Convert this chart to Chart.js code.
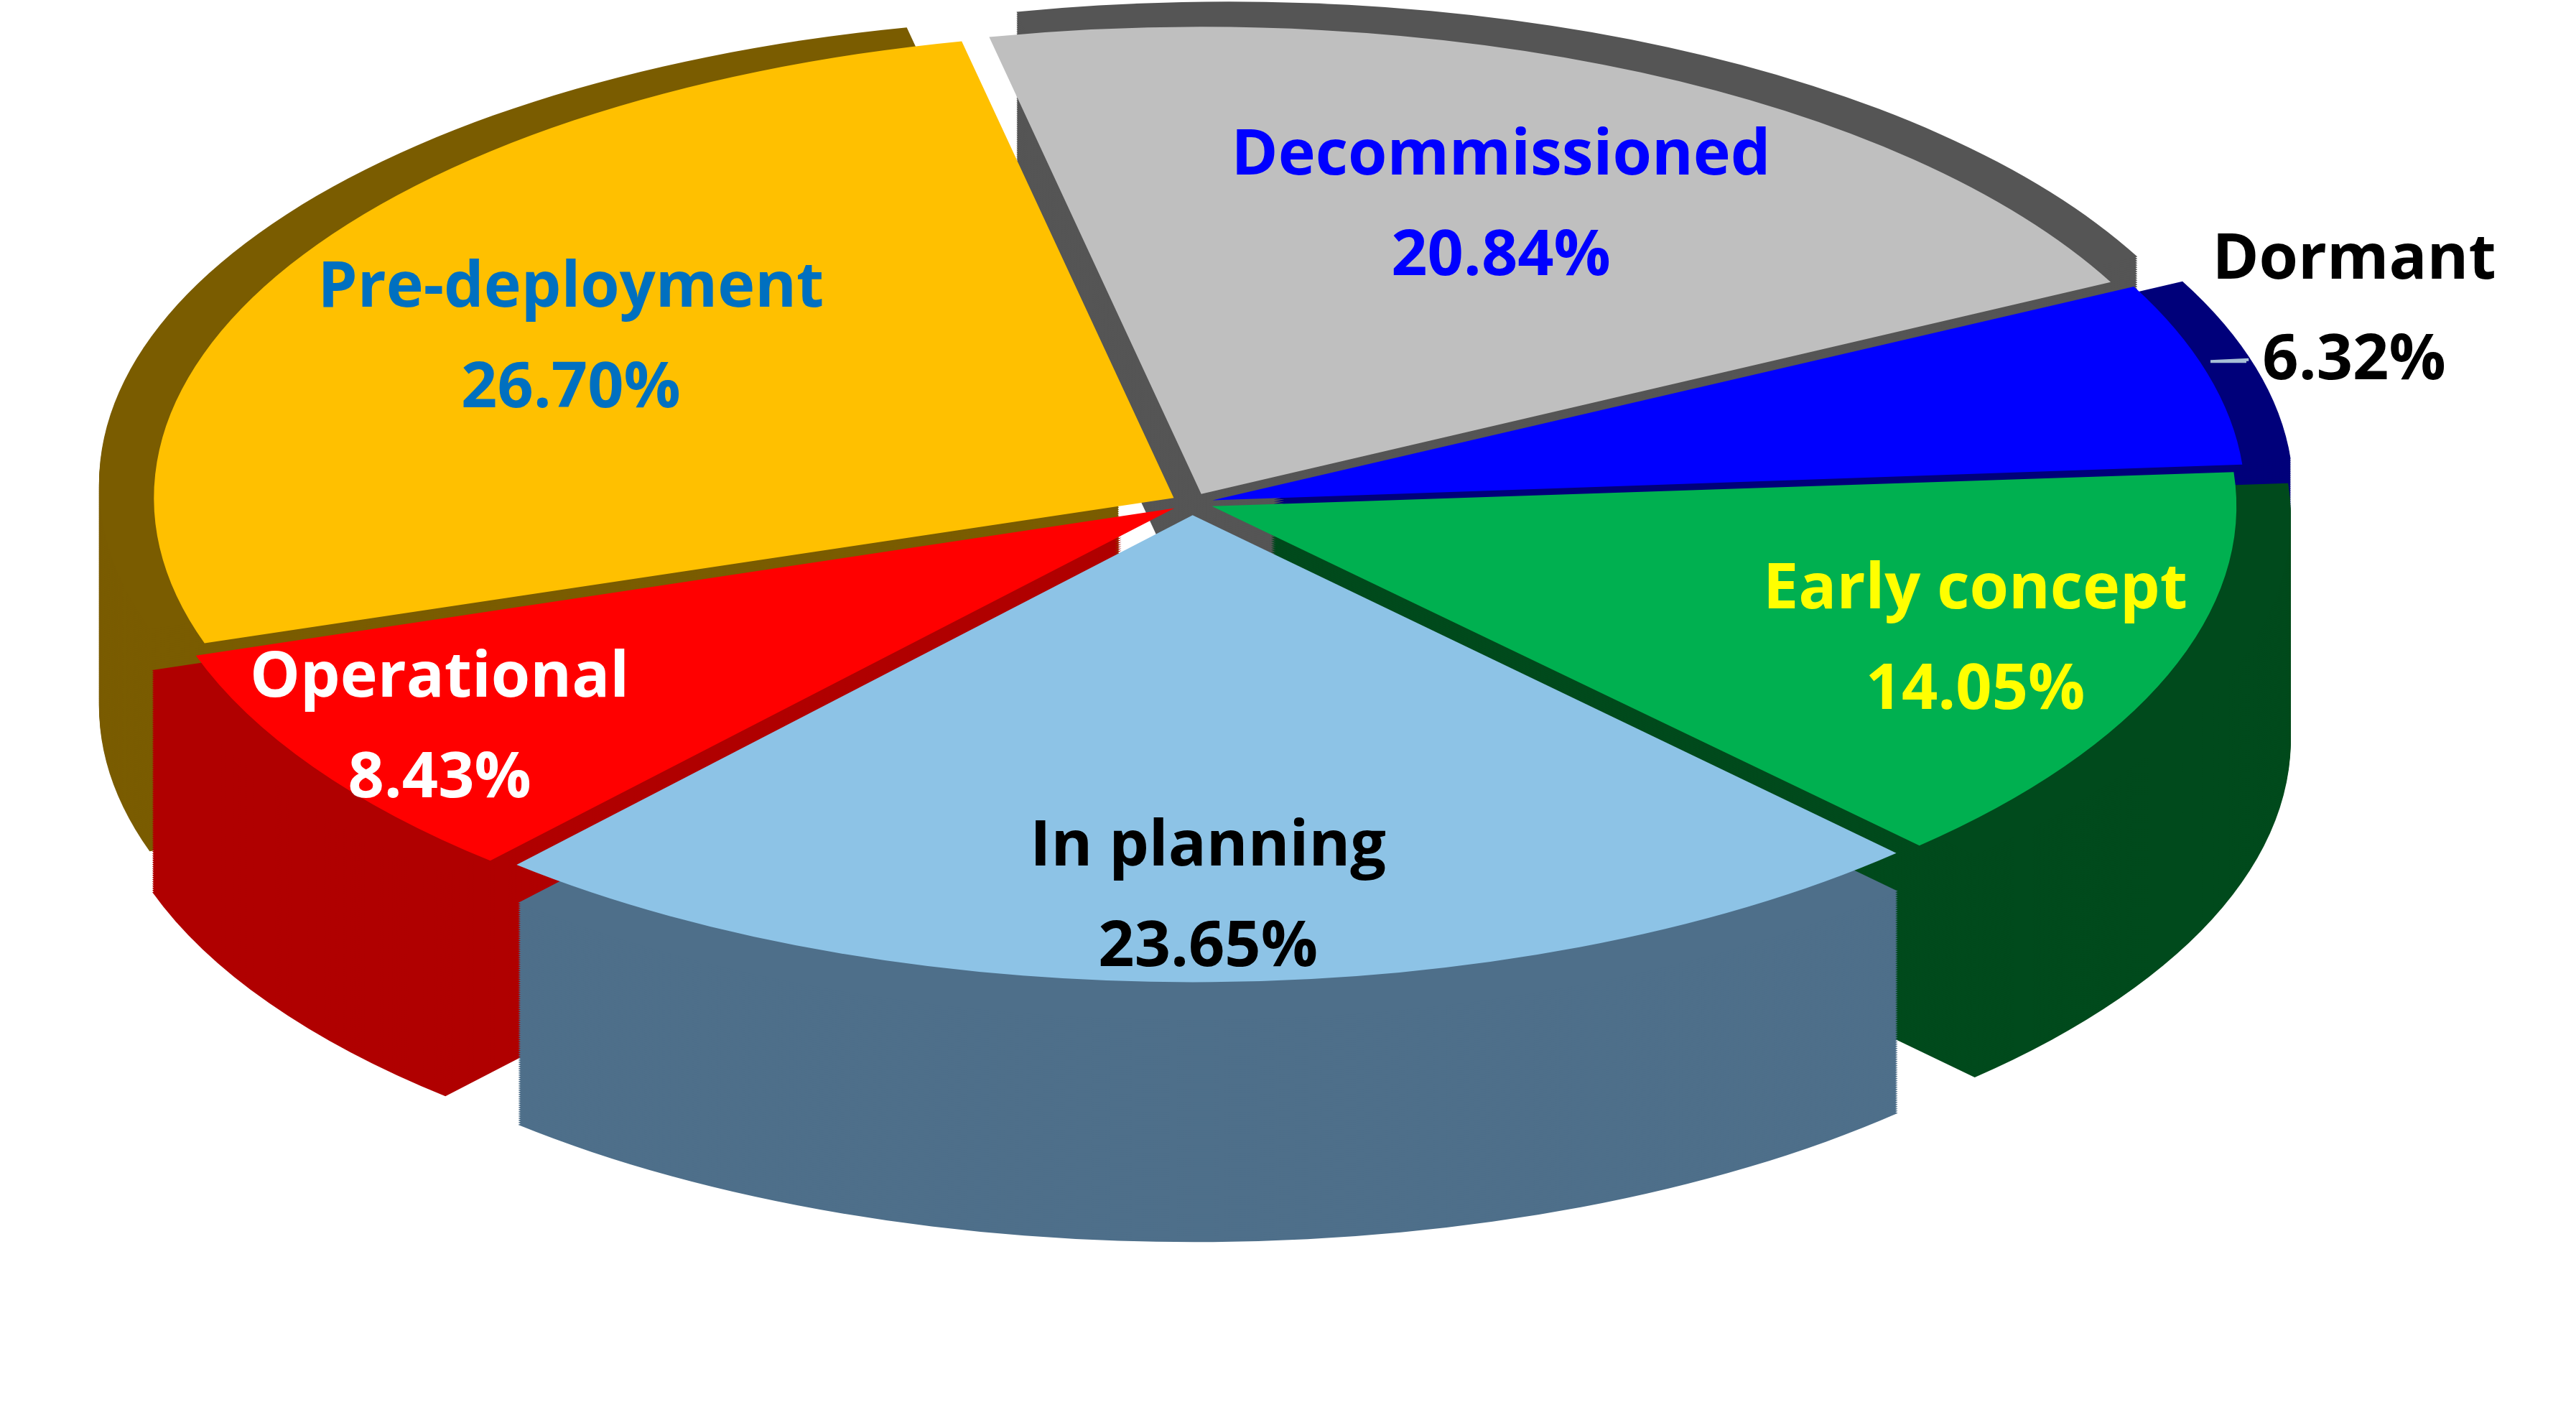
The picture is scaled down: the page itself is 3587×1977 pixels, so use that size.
<!DOCTYPE html>
<html>
<head>
<meta charset="utf-8">
<script src="https://cdn.jsdelivr.net/npm/chart.js@4.4.0/dist/chart.umd.min.js"></script>
<style>
  html, body { margin: 0; padding: 0; background: #fff; }
  #wrap { width: 3587px; height: 1977px; }
</style>
</head>
<body>
<div id="wrap"><canvas id="chart"></canvas></div>
<script>
// Data
const categories = ["Decommissioned", "Dormant", "Early concept", "In planning", "Operational", "Pre-deployment"];
const shares = [20.84, 6.32, 14.05, 23.65, 8.43, 26.70];

// Slice colours (top face), side colours, label colours
const topColors = ["#BFBFBF", "#0000FF", "#00B050", "#8DC3E6", "#FF0000", "#FFC000"];
const sideColors = ["#555555", "#00007A", "#004A1C", "#4E6F8A", "#B00000", "#7A5C00"];
const labelColors = ["#0000FF", "#000000", "#FFFF00", "#000000", "#FFFFFF", "#0070C0"];
const labelRadius = [0.62, 1.1, 0.74, 0.74, 0.8, 0.62];

// Where the flattened pie sits on the page
const view = { cx: 1660, cy: 700, rx: 1420, ry: 650, depth: 310 };

function transformFor(meta) {
  const a = meta.data[0];
  return { Cx: a.x, Cy: a.y, sx: view.rx / a.outerRadius, sy: view.ry / a.outerRadius };
}

function toScreen(t, x, y) {
  return [view.cx + t.sx * (x - t.Cx), view.cy + t.sy * (y - t.Cy)];
}

// Squash the pie into an ellipse and draw an extruded side underneath
const pie3d = {
  id: "pie3d",
  beforeDatasetsDraw(chart) {
    const ctx = chart.ctx;
    const meta = chart.getDatasetMeta(0);
    const t = transformFor(meta);
    for (let d = view.depth; d > 0; d -= 3) {
      ctx.save();
      ctx.translate(view.cx, view.cy + d);
      ctx.scale(t.sx, t.sy);
      ctx.translate(-t.Cx, -t.Cy);
      meta.data.forEach((arc, i) => {
        const off = arc.options.offset || 0;
        const mid = (arc.startAngle + arc.endAngle) / 2;
        const x = arc.x + Math.cos(mid) * off;
        const y = arc.y + Math.sin(mid) * off;
        ctx.beginPath();
        ctx.moveTo(x, y);
        ctx.arc(x, y, arc.outerRadius, arc.startAngle, arc.endAngle);
        ctx.closePath();
        ctx.fillStyle = sideColors[i];
        ctx.fill();
      });
      ctx.restore();
    }
    ctx.save();
    ctx.translate(view.cx, view.cy);
    ctx.scale(t.sx, t.sy);
    ctx.translate(-t.Cx, -t.Cy);
  },
  afterDatasetsDraw(chart) {
    chart.ctx.restore();
  },
  afterDraw(chart) {
    const ctx = chart.ctx;
    const meta = chart.getDatasetMeta(0);
    const t = transformFor(meta);
    ctx.save();
    ctx.font = "bold 88px 'Open Sans', 'Liberation Sans', sans-serif";
    ctx.textAlign = "center";
    ctx.textBaseline = "middle";
    meta.data.forEach((arc, i) => {
      const off = arc.options.offset || 0;
      const mid = (arc.startAngle + arc.endAngle) / 2;
      const r = arc.outerRadius * labelRadius[i] + off;
      let [lx, ly] = toScreen(t, arc.x + Math.cos(mid) * r, arc.y + Math.sin(mid) * r);
      if (labelRadius[i] > 1) {
        // outside label: keep it on the page and draw a leader line
        const w = ctx.measureText(categories[i]).width;
        lx = Math.min(lx, chart.width - 20 - w / 2);
        ly -= 60;
        const re = arc.outerRadius + off;
        const [ex, ey] = toScreen(t, arc.x + Math.cos(mid) * re, arc.y + Math.sin(mid) * re);
        ctx.strokeStyle = "#A6BFD6";
        ctx.lineWidth = 4;
        ctx.beginPath();
        ctx.moveTo(ex - 10, ey - 10);
        ctx.lineTo(lx - 200, ly + 70);
        ctx.lineTo(lx - 150, ly + 70);
        ctx.stroke();
      }
      ctx.fillStyle = labelColors[i];
      ctx.fillText(categories[i], lx, ly - 70);
      ctx.fillText(shares[i].toFixed(2) + "%", lx, ly + 70);
    });
    ctx.restore();
  }
};

new Chart(document.getElementById("chart"), {
  type: "pie",
  data: {
    labels: categories,
    datasets: [{
      data: shares,
      backgroundColor: topColors,
      borderWidth: 0,
      offset: [70, 70, 70, 90, 70, 70]
    }]
  },
  options: {
    responsive: true,
    maintainAspectRatio: false,
    animation: false,
    rotation: -12,
    layout: { padding: 100 },
    plugins: { legend: { display: false }, tooltip: { enabled: false } }
  },
  plugins: [pie3d]
});
</script>
</body>
</html>
